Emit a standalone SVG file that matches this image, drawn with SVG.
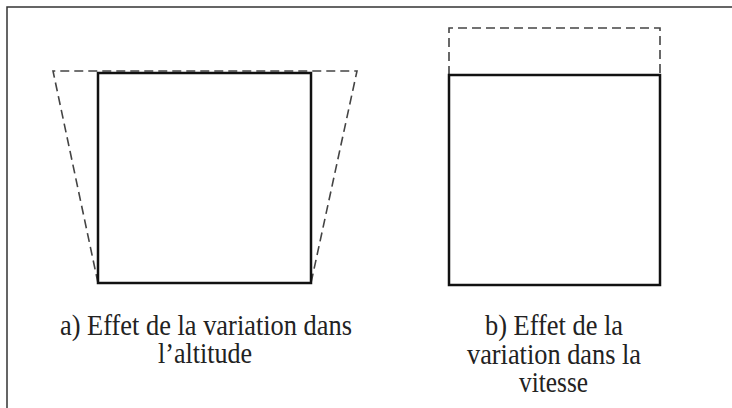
<svg xmlns="http://www.w3.org/2000/svg" width="732" height="408" viewBox="0 0 732 408">
<style>
.frame{fill:none;stroke:#333;stroke-width:1.5}
.solid{fill:none;stroke:#111;stroke-width:2.5}
.dash{fill:none;stroke:#444;stroke-width:1.6;stroke-dasharray:9,5}
.lbl{font-family:"Liberation Serif","Times New Roman",serif;font-size:30px;fill:#222;text-anchor:middle}
</style>
<rect width="732" height="408" fill="#fff"/>
<path class="frame" d="M7,408 V7 H732"/>
<g id="fig-a">
<path class="dash" d="M98,283 L53,71 H357 L311,283"/>
<rect class="solid" x="98" y="73" width="213" height="210"/>
<text class="lbl" x="206" y="335" textLength="292" lengthAdjust="spacingAndGlyphs">a) Effet de la variation dans</text>
<text class="lbl" x="205" y="363" textLength="94" lengthAdjust="spacingAndGlyphs">l’altitude</text>
</g>
<g id="fig-b">
<path class="dash" d="M449,75 V28 H660 V75"/>
<rect class="solid" x="449" y="75" width="211" height="210"/>
<text class="lbl" x="554" y="335" textLength="138" lengthAdjust="spacingAndGlyphs">b) Effet de la</text>
<text class="lbl" x="554" y="364" textLength="174" lengthAdjust="spacingAndGlyphs">variation dans la</text>
<text class="lbl" x="553.5" y="392" textLength="69" lengthAdjust="spacingAndGlyphs">vitesse</text>
</g>
</svg>
